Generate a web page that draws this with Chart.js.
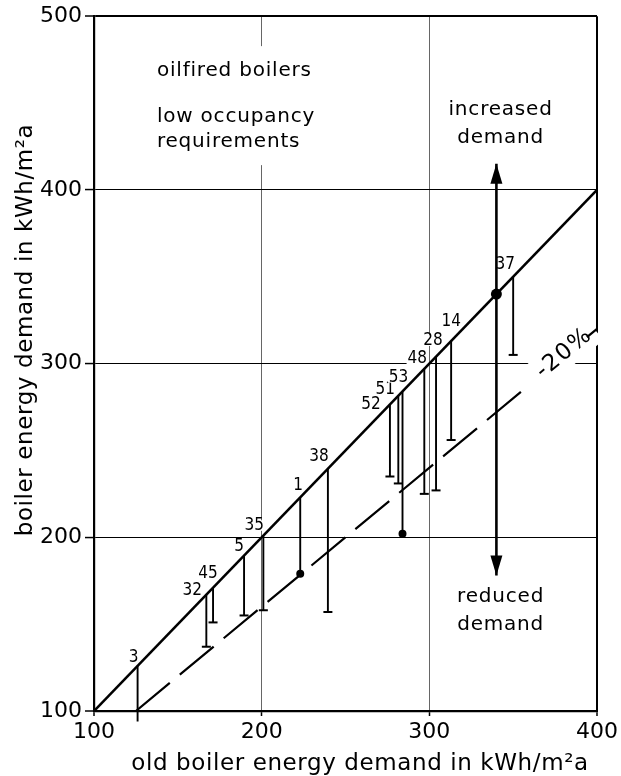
<!DOCTYPE html>
<html><head><meta charset="utf-8">
<script src="https://cdn.jsdelivr.net/npm/chart.js@4"></script>
<style>html,body{margin:0;padding:0;background:#fff}canvas{display:block}</style>
</head><body>
<canvas id="c" width="621" height="776"></canvas>
<script>
// ---------- data ----------
const caseIds   = ['3','32','45','5','35','1','38','52','51','53','48','28','14','37'];
const oldDemand = [126,167,171,189.5,201,223,239.5,276.5,281.5,284,297,304,313,350];
const newDemand = [94,137,151,155,158,179,157,235,231,202,225,227,256,305];
const dotEndCases = ['1','53'];
const xTicks = [100,200,300,400];
const yTicks = [100,200,300,400,500];
const equalLineX = [100,400];
const equalLineY = [100,400];
const minus20X = [125,357,394,400];
const minus20Y = [100,285.6,315.2,320];
const arrowX = 340;
const arrowLow = 178;
const arrowHigh = 415;
const markX = [340];
const markY = [340];
const xTitle = 'old boiler energy demand in kWh/m\u00B2a';
const yTitle = 'boiler energy demand in kWh/m\u00B2a';
const noteLines = ['oilfired boilers','low occupancy','requirements'];
const upText = ['increased','demand'];
const downText = ['reduced','demand'];
const minus20Text = '-20%';

// ---------- style ----------
const FONT = "'DejaVu Sans', sans-serif";
const LABEL_FONT = "17px 'DejaVu Sans Condensed', 'DejaVu Sans', sans-serif";
const labelNudge = {'3':[-4,-8],'32':[-14,-4],'45':[-5,-14],'5':[-5,-9],'35':[-9,-10],'1':[-2,-12],
  '38':[-9,-12],'52':[-19,0],'51':[-13,-6],'53':[-4,-14],'48':[-7,-10],'28':[-3,-16],'14':[0,-19],'37':[-8,-12]};

// ---------- build datasets ----------
const barPoints = [];
caseIds.forEach((id,i)=>{
  barPoints.push({x:oldDemand[i], y:oldDemand[i], id});
  barPoints.push({x:oldDemand[i], y:newDemand[i], id, end:true});
  barPoints.push({x:oldDemand[i], y:null});
});
const minus20Points = [];
minus20X.forEach((v,i)=>{
  minus20Points.push({x:v, y:minus20Y[i]});
  if (i===1) minus20Points.push({x:(v+minus20X[2])/2, y:null});
});

function drawBoxedText(ctx, str, cx, cy, font, spacing, pad){
  ctx.font = font;
  ctx.letterSpacing = spacing + 'px';
  const w = ctx.measureText(str).width;
  const m = ctx.measureText('0');
  const h = m.actualBoundingBoxAscent;
  ctx.fillStyle = '#fff';
  ctx.fillRect(cx - w/2 - pad, cy - h/2 - pad, w + 2*pad, h + 2*pad);
  ctx.fillStyle = '#000';
  ctx.textAlign = 'center';
  ctx.textBaseline = 'middle';
  ctx.fillText(str, cx, cy);
}

const overlay = {
  id:'overlay',
  beforeDatasetsDraw(chart){
    const {ctx, scales:{x,y}} = chart;
    ctx.save();
    // note block
    ctx.font = "20px " + FONT;
    ctx.letterSpacing = '0.8px';
    const nx = x.getPixelForValue(137.5);
    const nb = [y.getPixelForValue(465.5)];
    nb.push(nb[0]+46); nb.push(nb[0]+71);
    const maxW = Math.max(...noteLines.map(s=>ctx.measureText(s).width));
    ctx.fillStyle = '#fff';
    ctx.fillRect(nx-8, nb[0]-30, maxW+16, nb[2]-nb[0]+48);
    ctx.fillStyle = '#000';
    ctx.textAlign='left'; ctx.textBaseline='alphabetic';
    noteLines.forEach((s,i)=>ctx.fillText(s, nx, nb[i]));
    // increased / reduced demand
    ctx.textAlign='center';
    const ax = x.getPixelForValue(342.5);
    const ub = y.getPixelForValue(443);
    ctx.fillText(upText[0], ax, ub); ctx.fillText(upText[1], ax, ub+28);
    const db = y.getPixelForValue(162.7);
    ctx.fillText(downText[0], ax, db); ctx.fillText(downText[1], ax, db+28);
    // -20% label, rotated along the dashed line
    const lx = x.getPixelForValue(380.4), ly = y.getPixelForValue(306);
    const ang = Math.atan2(y.getPixelForValue(320)-y.getPixelForValue(100), x.getPixelForValue(400)-x.getPixelForValue(125));
    ctx.translate(lx, ly); ctx.rotate(ang);
    ctx.font = "23px " + FONT; ctx.letterSpacing='1.5px';
    const tw = ctx.measureText(minus20Text).width;
    ctx.fillStyle='#fff'; ctx.fillRect(-tw/2-6, -15, tw+12, 30);
    ctx.fillStyle='#000'; ctx.textAlign='center'; ctx.textBaseline='middle';
    ctx.fillText(minus20Text, 0, 0);
    ctx.setTransform(1,0,0,1,0,0);
    // case labels
    caseIds.forEach((id,i)=>{
      const px = x.getPixelForValue(oldDemand[i]);
      const py = y.getPixelForValue(oldDemand[i]);
      const n = labelNudge[id] || [-6,-11];
      drawBoxedText(ctx, id, px+n[0], py+n[1], LABEL_FONT, 0, 1);
    });
    ctx.restore();
  },
  afterDatasetsDraw(chart){
    const {ctx, scales:{x,y}} = chart;
    ctx.save();
    ctx.fillStyle='#000';
    const px = x.getPixelForValue(arrowX);
    const top = y.getPixelForValue(arrowHigh);
    const bot = y.getPixelForValue(arrowLow);
    ctx.beginPath(); ctx.moveTo(px, top); ctx.lineTo(px-6, top+20); ctx.lineTo(px+6, top+20); ctx.closePath(); ctx.fill();
    ctx.beginPath(); ctx.moveTo(px, bot); ctx.lineTo(px-6, bot-20); ctx.lineTo(px+6, bot-20); ctx.closePath(); ctx.fill();
    ctx.restore();
  },
  afterDraw(chart){
    const ctx = chart.ctx;
    ctx.save();
    ctx.fillStyle='#000';
    ctx.font = "23px " + FONT;
    ctx.letterSpacing = '0.6px';
    ctx.textAlign='center'; ctx.textBaseline='alphabetic';
    ctx.fillText(xTitle, 360, 770);
    ctx.translate(32, 330); ctx.rotate(-Math.PI/2);
    ctx.fillText(yTitle, 0, 0);
    ctx.restore();
  }
};

new Chart(document.getElementById('c'), {
  type:'scatter',
  data:{ datasets:[
    { label:'mark', data: markX.map((v,i)=>({x:v,y:markY[i]})), pointRadius:5.5, pointBackgroundColor:'#000', pointBorderWidth:0, showLine:false },
    { label:'equal', data: equalLineX.map((v,i)=>({x:v,y:equalLineY[i]})), showLine:true, borderColor:'#000', borderWidth:2.6, pointRadius:0 },
    { label:'cases', data: barPoints, showLine:true, spanGaps:false, clip:false, borderColor:'#000', borderWidth:1.9,
      pointStyle: c => (c.raw && c.raw.end && !dotEndCases.includes(c.raw.id)) ? 'line' : 'circle',
      pointRadius: c => (c.raw && c.raw.end) ? (dotEndCases.includes(c.raw.id) ? 3 : 4.5) : 0,
      pointBorderWidth: 2, pointBorderColor:'#000', pointBackgroundColor:'#000' },
    { label:'minus20', data: minus20Points, showLine:true, spanGaps:false, borderColor:'#000', borderWidth:2.2, borderDash:[44,13], pointRadius:0 },
    { label:'arrow', data:[{x:arrowX,y:arrowLow},{x:arrowX,y:arrowHigh}], showLine:true, borderColor:'#000', borderWidth:2.6, pointRadius:0 }
  ]},
  options:{
    responsive:false, animation:false, devicePixelRatio:1,
    layout:{ padding:{top:16, right:21, left:0, bottom:0} },
    plugins:{ legend:{display:false}, tooltip:{enabled:false} },
    scales:{
      x:{ type:'linear', min:100, max:400,
        afterBuildTicks: s => { s.ticks = xTicks.map(v=>({value:v})); },
        afterFit: s => { s.height = 65; },
        grid:{ color: c => (c.tick && c.tick.value===400) ? '#000' : '#555',
               lineWidth: c => (c.tick && (c.tick.value===400 || c.tick.value===100)) ? 2 : 0.9,
               tickColor:'#000', tickWidth:1.5, tickLength:5 },
        border:{ display:true, color:'#000', width:2.2 },
        ticks:{ font:{family:"'DejaVu Sans'", size:22}, color:'#000', padding:3, maxRotation:0, autoSkip:false, callback:v=>String(v) }
      },
      y:{ type:'linear', min:100, max:500,
        afterBuildTicks: s => { s.ticks = yTicks.map(v=>({value:v})); },
        afterFit: s => { s.width = 94; },
        grid:{ color:'#000',
               lineWidth: c => (c.tick && (c.tick.value===500 || c.tick.value===100)) ? 2 : 1.1,
               tickColor:'#000', tickWidth:1.5, tickLength:9 },
        border:{ display:true, color:'#000', width:2.2 },
        ticks:{ font:{family:"'DejaVu Sans'", size:22}, color:'#000', padding:3, autoSkip:false, callback:v=>String(v) }
      }
    }
  },
  plugins:[overlay]
});
</script>
</body></html>
